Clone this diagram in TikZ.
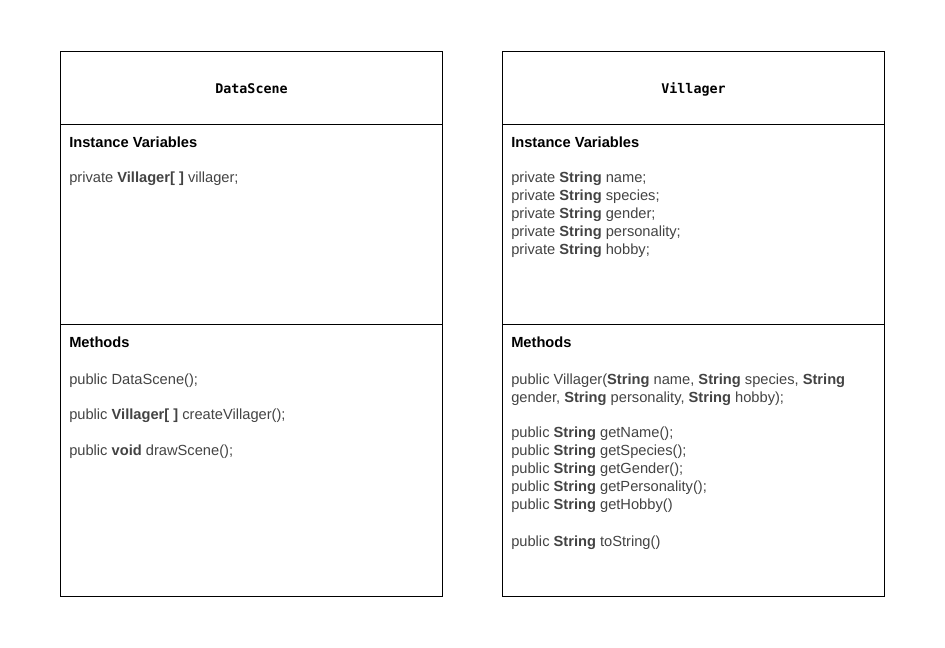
\documentclass[tikz,border=0pt]{standalone}
\usepackage{fontspec}
\setmainfont{Liberation Sans}
\newfontfamily\titlemono{DejaVu Sans Mono}
\definecolor{bodygray}{HTML}{434343}
\begin{document}
\begin{tikzpicture}[x=0.75pt,y=-0.75pt,
  comp/.style={draw=black,line width=0.75pt,anchor=north west,inner sep=0pt,minimum width=286.5pt},
  titletxt/.style={font=\titlemono\bfseries\fontsize{10}{12}\selectfont,text=black,inner sep=0pt},
  head/.style={anchor=base west,inner sep=0pt,font=\bfseries\fontsize{11}{13}\selectfont,text=black},
  line/.style={anchor=base west,inner sep=0pt,font=\fontsize{11}{13}\selectfont,text=bodygray}]
\useasboundingbox (0,0) rectangle (945,648);
% left class
\node[comp,minimum height=54.75pt] (dtitle) at (60,51) {};
\node[comp,minimum height=150pt] (dvars) at (60,124) {};
\node[comp,minimum height=204pt] (dmeth) at (60,324) {};
\node[titletxt] (dname) at ([yshift=-0.75pt]dtitle.center) {DataScene};
\node[head] (dvh) at (69,148) {Instance Variables};
\node[line] (dv1) at (69,183) {private \textbf{Villager[ ]} villager;};
\node[head] (dmh) at (69,347) {Methods};
\node[line] (dm1) at (69,384) {public DataScene();};
\node[line] (dm2) at (69,419) {public \textbf{Villager[ ]} createVillager();};
\node[line] (dm3) at (69,455) {public \textbf{void} drawScene();};
% right class
\node[comp,minimum height=54.75pt] (vtitle) at (502,51) {};
\node[comp,minimum height=150pt] (vvars) at (502,124) {};
\node[comp,minimum height=204pt] (vmeth) at (502,324) {};
\node[titletxt] (vname) at ([yshift=-0.75pt]vtitle.center) {Villager};
\node[head] (vvh) at (511,148) {Instance Variables};
\node[line] (vv1) at (511,183) {private \textbf{String} name;};
\node[line] (vv2) at (511,201) {private \textbf{String} species;};
\node[line] (vv3) at (511,219) {private \textbf{String} gender;};
\node[line] (vv4) at (511,237) {private \textbf{String} personality;};
\node[line] (vv5) at (511,255) {private \textbf{String} hobby;};
\node[head] (vmh) at (511,347) {Methods};
\node[line] (vm1) at (511,384) {public Villager(\textbf{String} name, \textbf{String} species, \textbf{String}};
\node[line] (vm2) at (511,402) {gender, \textbf{String} personality, \textbf{String} hobby);};
\node[line] (vm3) at (511,437) {public \textbf{String} getName();};
\node[line] (vm4) at (511,455) {public \textbf{String} getSpecies();};
\node[line] (vm5) at (511,473) {public \textbf{String} getGender();};
\node[line] (vm6) at (511,491) {public \textbf{String} getPersonality();};
\node[line] (vm7) at (511,509) {public \textbf{String} getHobby()};
\node[line] (vm8) at (511,546) {public \textbf{String} toString()};
\end{tikzpicture}
\end{document}
